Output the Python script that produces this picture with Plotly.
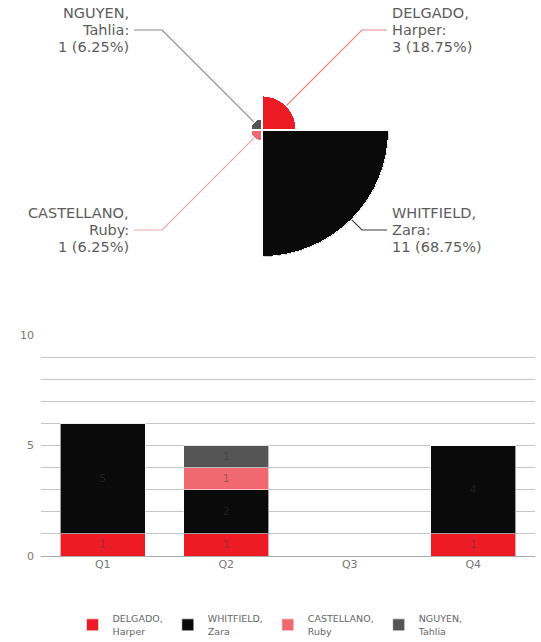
import math
import plotly.graph_objects as go

W, H = 541, 642

names = ["DELGADO, Harper", "WHITFIELD, Zara", "CASTELLANO, Ruby", "NGUYEN, Tahlia"]
legend_names = ["DELGADO,<br>Harper", "WHITFIELD,<br>Zara", "CASTELLANO,<br>Ruby", "NGUYEN,<br>Tahlia"]
colors = ["#ED1C24", "#0A0A0A", "#F06870", "#555555"]
line_colors = ["#F08585", "#3A3A3A", "#F2A3A8", "#8A8A8A"]
totals = [3, 11, 1, 1]

quarters = ["Q1", "Q2", "Q3", "Q4"]
delgado = [1, 1, 0, 1]
whitfield = [5, 2, 0, 4]
castellano = [0, 1, 0, 0]
nguyen = [0, 1, 0, 0]
series = [delgado, whitfield, castellano, nguyen]

FONT = "DejaVu Sans"
TXT = "#5c5c5c"

def px(x):
    return x / W

def py(y):
    return 1 - y / H

fig = go.Figure()

# polar area chart
cx, cy, R = 262, 130, 127
angles = [45, 135, 225, 315]
fig.add_trace(go.Barpolar(
    r=totals, theta=angles, width=[90] * 4,
    marker=dict(color=colors, line=dict(color="white", width=2)),
    showlegend=False, hoverinfo="skip",
))

for i, vals in enumerate(series):
    fig.add_trace(go.Bar(
        x=quarters, y=vals, name=legend_names[i],
        marker=dict(color=colors[i], line=dict(color="rgba(255,255,255,0.6)", width=1)),
        text=[str(v) if v else "" for v in vals],
        textposition="inside", insidetextanchor="middle",
        textfont=dict(size=11, color="rgba(60,60,60,0.45)", family=FONT),
        xaxis="x", yaxis="y",
    ))

fig.update_layout(
    width=W, height=H,
    margin=dict(l=0, r=0, t=0, b=0, autoexpand=False),
    paper_bgcolor="white", plot_bgcolor="white",
    font=dict(family=FONT, color=TXT),
    barmode="stack", bargap=0.31,
    polar=dict(
        domain=dict(x=[px(cx - R), px(cx + R)], y=[py(cy + R), py(cy - R)]),
        bgcolor="white",
        radialaxis=dict(visible=False, range=[0, max(totals)]),
        angularaxis=dict(visible=False, rotation=90, direction="clockwise"),
    ),
    xaxis=dict(domain=[px(41), px(535)], showgrid=False, showline=False, automargin=False,
               ticks="", tickfont=dict(size=11, color="#777"), fixedrange=True),
    yaxis=dict(domain=[py(556), py(335)], range=[0, 10], automargin=False,
               tickvals=[0, 5, 10], ticks="", showline=False,
               gridcolor="#c4c4c4", gridwidth=1,
               zeroline=True, zerolinecolor="#aaaaaa", zerolinewidth=1,
               tickfont=dict(size=11, color="#777"), ticklabelstandoff=6,
               minor=dict(dtick=1, showgrid=True, gridcolor="#c4c4c4", gridwidth=1)),
    legend=dict(orientation="h", x=0.5, xanchor="center", y=py(625), yanchor="middle",
                font=dict(size=9.5, color="#666"), traceorder="normal",
                itemwidth=30, tracegroupgap=0),
)

# labels with leader lines
pct = [t / sum(totals) * 100 for t in totals]
shapes = []
annots = []
for i, a in enumerate(angles):
    rad = math.radians(a)
    dx, dy = math.sin(rad), -math.cos(rad)
    r0 = totals[i] / max(totals) * R
    x0, y0 = cx + dx * r0, cy + dy * r0
    x1, y1 = cx + dx * 141.4, cy + dy * 141.4
    right = dx > 0
    x2 = x1 + (25 if right else -28)
    shapes.append(dict(type="path", xref="paper", yref="paper",
                       path=f"M {px(x0)},{py(y0)} L {px(x1)},{py(y1)} L {px(x2)},{py(y1)}",
                       line=dict(color=line_colors[i], width=1.2)))
    last, first = names[i].split(", ")
    lines = [last + ",", first + ":", f"{totals[i]} ({pct[i]:g}%)"]
    for k, t in enumerate(lines):
        yy = y1 - 17 + k * 17
        annots.append(dict(text=t, xref="paper", yref="paper",
                           x=px(x2 + (3 if right else -3)), y=py(yy),
                           xanchor="left" if right else "right", yanchor="middle",
                           showarrow=False,
                           font=dict(size=14.5, color=TXT, family=FONT)))

fig.update_layout(shapes=shapes, annotations=annots)
fig.write_html("out.html", config={"displayModeBar": False},
               post_script="document.body.style.margin='0';document.body.style.overflow='hidden';")
